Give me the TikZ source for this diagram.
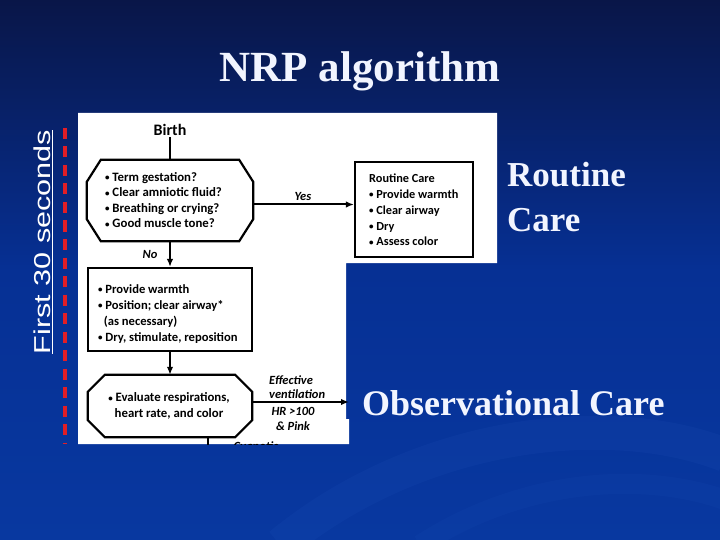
\documentclass[tikz,border=0pt]{standalone}
\usepackage{fontspec}
\setmainfont{Liberation Serif}
\setsansfont{Liberation Sans}
\newfontfamily\flow{Carlito}
\usetikzlibrary{arrows.meta,calc}
\definecolor{bgtop}{RGB}{9,22,72}
\definecolor{bgmid}{RGB}{6,48,148}
\definecolor{bgbot}{RGB}{8,56,160}
\definecolor{swoosh}{RGB}{40,90,195}
\definecolor{dashred}{RGB}{226,30,38}
\definecolor{slidewhite}{RGB}{242,245,255}
\newcommand\bul{{\fontsize{9}{9}\selectfont\raisebox{0.6pt}{\textbullet}}\hspace{0.22em}}
\newcommand\octframe[3]{%
  \draw[boxline] ($(#1.north west)+(#2,0)$) -- ($(#1.north east)+(-#2,0)$)
    -- ($(#1.north east)+(0,#3)$) -- ($(#1.south east)+(0,-#3)$)
    -- ($(#1.south east)+(-#2,0)$) -- ($(#1.south west)+(#2,0)$)
    -- ($(#1.south west)+(0,-#3)$) -- ($(#1.north west)+(0,#3)$) -- cycle;}
\begin{document}
\begin{tikzpicture}[x=1pt,y=-1pt,
  boxline/.style={draw=black, line width=2.2pt, line join=miter},
  flowtxt/.style={font=\flow\bfseries\fontsize{12.8}{15.5}\selectfont, text=black, inner sep=0pt, align=left, anchor=west},
  flowlbl/.style={font=\flow\bfseries\itshape\fontsize{12.5}{13.5}\selectfont, text=black, inner sep=0pt},
  arr/.style={line width=2pt, -{Latex[length=8pt,width=6.5pt]}},
  conn/.style={line width=2pt},
  slidetxt/.style={text=slidewhite, inner sep=0pt, anchor=base west, font=\bfseries\fontsize{35}{40}\selectfont},
]
\useasboundingbox (0,0) rectangle (720,540);
\shade[top color=bgtop, bottom color=bgbot, middle color=bgmid] (0,0) rectangle (720,540);
\draw[line width=34pt, color=swoosh, opacity=0.12] (280,545) .. controls (420,430) and (610,410) .. (725,455);
\draw[line width=20pt, color=swoosh, opacity=0.09] (420,545) .. controls (520,480) and (640,470) .. (725,500);

% title
\node[anchor=base, text=slidewhite, inner sep=0pt, font=\bfseries\fontsize{43}{48}\selectfont] (title) at (360,82) {NRP algorithm};

% white panel
\fill[white] (78,113) -- (497,113) -- (497,263) -- (346,263) -- (346,419) -- (349,419) -- (349,444) -- (78,444) -- cycle;

% red dashed bar and label
\draw[dashred, line width=4.5pt, dash pattern=on 11pt off 7.5pt] (65,128) -- (65,444);
\node[rotate=90, text=white, inner sep=0pt, font=\sffamily\fontsize{23}{26}\selectfont] (first) at (43,242) {\scalebox{1.33}[1]{\underline{First 30 seconds}}};

% flowchart
\node[font=\flow\bfseries\fontsize{16}{18}\selectfont, inner sep=1pt] (birth) at (170,130) {Birth};

\node[minimum width=166pt, minimum height=81pt, inner sep=0pt] (q1) at (170,200.5) {};
\octframe{q1}{14}{22}
\node[flowtxt] (q1t) at (105,200) {\bul Term gestation?\\ \bul Clear amniotic fluid?\\ \bul Breathing or crying?\\ \bul Good muscle tone?};

\node[boxline, minimum width=118pt, minimum height=95pt, inner sep=0pt] (rc) at (414,209.5) {};
\node[flowtxt, font=\flow\bfseries\fontsize{12.3}{15.8}\selectfont] (rct) at (369,210) {Routine Care\\ \bul Provide warmth\\ \bul Clear airway\\ \bul Dry\\ \bul Assess color};

\node[boxline, minimum width=164pt, minimum height=83pt, inner sep=0pt] (b2) at (170,309.5) {};
\node[flowtxt, font=\flow\bfseries\fontsize{12.6}{16}\selectfont] (b2t) at (98,314) {\bul Provide warmth\\ \bul Position; clear airway*\\ \hspace{0.45em}(as necessary)\\ \bul Dry, stimulate, reposition};

\node[minimum width=164pt, minimum height=62pt, inner sep=0pt] (q2) at (170,406) {};
\octframe{q2}{17}{17}
\node[flowtxt, align=center, anchor=center] (q2t) at (169,406) {\bul Evaluate respirations,\\ heart rate, and color};

\node[flowlbl] (yes) at (303,196) {Yes};
\node[flowlbl] (no) at (150,254) {No};
\node[flowlbl, align=left, anchor=west] (eff) at (269,387) {Effective\\ventilation};
\node[flowlbl, align=center, font=\flow\bfseries\itshape\fontsize{12.5}{15}\selectfont] (hr) at (293,419) {HR >100\\ \& Pink};

\coordinate (obs) at (349,402);
\coordinate (cy) at (208,455);
\draw[conn] (birth.south) -- (birth.south |- q1.north);
\draw[arr] ([yshift=-4pt]q1.east) -- ([yshift=-4pt]q1.east -| rc.west);
\draw[arr] (q1.south) -- (b2.north);
\draw[arr] (b2.south) -- (q2.north);
\draw[arr] ([yshift=4pt]q2.east) -- (obs);

\begin{scope}
  \clip (78,430) rectangle (349,444);
  \draw[conn] (q2.south -| cy) -- (cy);
  \node[flowlbl, anchor=base] (cyan) at (256,450) {Cyanotic};
\end{scope}

% slide texts
\node[slidetxt] (rtop) at (507,187) {Routine};
\node[slidetxt] (rbot) at (507,232) {Care};
\node[slidetxt, font=\bfseries\fontsize{36}{40}\selectfont] (obstxt) at (362,415) {Observational Care};
\end{tikzpicture}
\end{document}
